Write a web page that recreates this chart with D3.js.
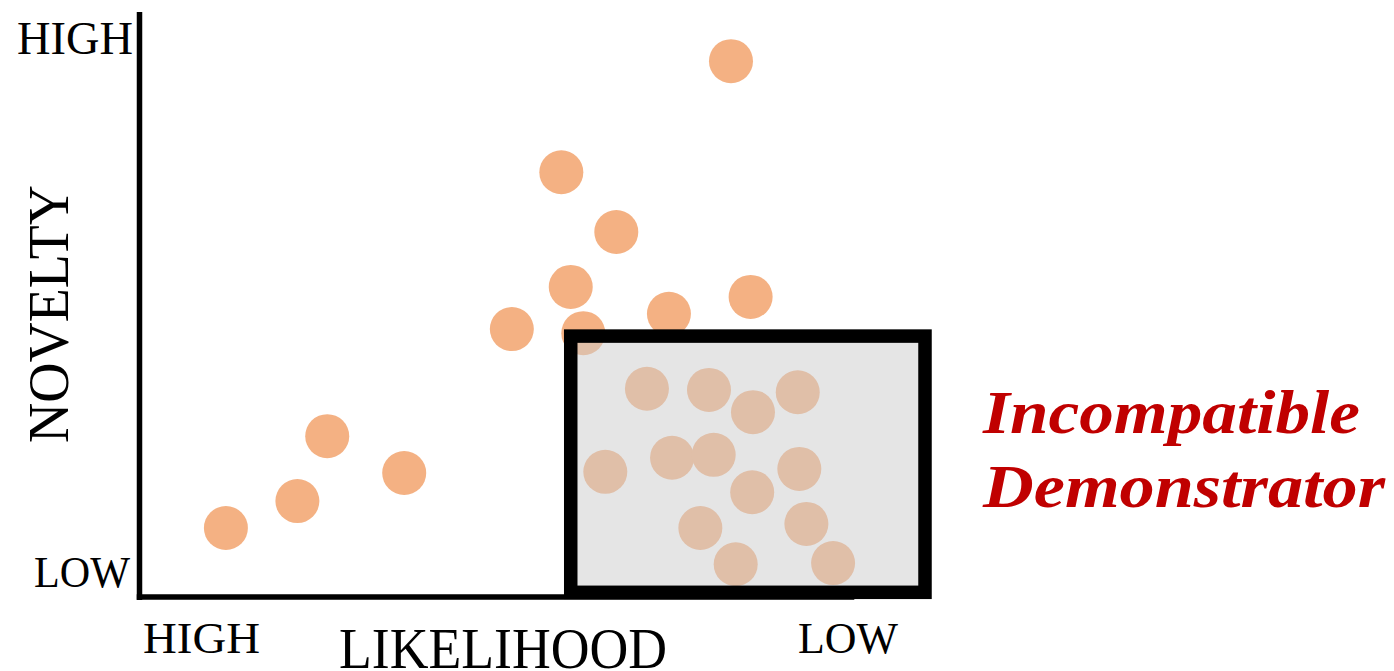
<!DOCTYPE html>
<html>
<head>
<meta charset="utf-8">
<script src="https://cdn.jsdelivr.net/npm/d3@7"></script>
<style>
  html, body { margin: 0; padding: 0; background: #fff; }
  svg { display: block; }
  text { font-family: "Liberation Serif", "Times New Roman", serif; fill: #000; }
</style>
</head>
<body>
<svg id="chart" width="1394" height="671"></svg>
<script>
// Ideas placed by likelihood (0 = high, 100 = low) and novelty (0 = low, 100 = high)
const likelihood = [75.3, 53.7, 60.7, 54.9, 77.8, 47.4, 56.5, 67.4, 23.9, 33.7, 20.1, 11.0,
                    64.6, 72.5, 78.1, 83.8, 59.3, 67.8, 73.1, 78.0, 84.0, 71.4, 84.9, 75.9, 88.3];
const novelty    = [91.6, 72.6, 62.4, 53.0, 51.3, 45.8, 45.1, 48.4, 27.5, 21.2, 16.4, 11.8,
                    35.6, 35.4, 31.6, 35.0, 21.4, 23.8, 24.3, 17.9, 21.9, 11.8, 12.5,  5.6,  5.8];

// Region of ideas that the demonstrator cannot accommodate
const regionLikelihood = [54.9, 100];
const regionNovelty    = [0.8, 44.6];

// Axis end labels and titles
const yEndLabels = ["HIGH", "LOW"];
const xEndLabels = ["HIGH", "LOW"];
const axisTitles = ["LIKELIHOOD", "NOVELTY"];
const regionLabel = ["Incompatible", "Demonstrator"];

const svg = d3.select("#chart");

const x = d3.scaleLinear().domain([0, 100]).range([139.5, 925]);
const y = d3.scaleLinear().domain([0, 100]).range([597, 12]);

// Axes: plain heavy lines with no ticks
svg.append("line")
  .attr("x1", x(0)).attr("x2", x(0))
  .attr("y1", y(100)).attr("y2", y(0) + 3)
  .attr("stroke", "#000").attr("stroke-width", 5.5);
svg.append("line")
  .attr("x1", x(0) - 2.75).attr("x2", x(91))
  .attr("y1", y(0)).attr("y2", y(0))
  .attr("stroke", "#000").attr("stroke-width", 5.5);

// Points
const points = likelihood.map((v, i) => ({ lx: v, nv: novelty[i] }));
svg.append("g")
  .selectAll("circle")
  .data(points)
  .join("circle")
  .attr("cx", d => x(d.lx))
  .attr("cy", d => y(d.nv))
  .attr("r", 22)
  .attr("fill", "#F4B183");

// Shaded incompatible region, laid over the points
svg.append("rect")
  .attr("x", x(regionLikelihood[0]))
  .attr("y", y(regionNovelty[1]))
  .attr("width", x(regionLikelihood[1]) - x(regionLikelihood[0]))
  .attr("height", y(regionNovelty[0]) - y(regionNovelty[1]))
  .attr("fill", "#CCCCCC")
  .attr("fill-opacity", 0.51)
  .attr("stroke", "#000")
  .attr("stroke-width", 13.5);

// End labels on the novelty axis
svg.append("text").text(yEndLabels[0])
  .attr("x", 133).attr("y", 54).attr("text-anchor", "end")
  .attr("font-size", 46).attr("textLength", 116).attr("lengthAdjust", "spacingAndGlyphs");
svg.append("text").text(yEndLabels[1])
  .attr("x", 130).attr("y", 587).attr("text-anchor", "end")
  .attr("font-size", 44).attr("textLength", 96).attr("lengthAdjust", "spacingAndGlyphs");

// End labels on the likelihood axis
svg.append("text").text(xEndLabels[0])
  .attr("x", 143).attr("y", 653)
  .attr("font-size", 45).attr("textLength", 117).attr("lengthAdjust", "spacingAndGlyphs");
svg.append("text").text(xEndLabels[1])
  .attr("x", 798).attr("y", 653)
  .attr("font-size", 45).attr("textLength", 100).attr("lengthAdjust", "spacingAndGlyphs");

// Axis titles
svg.append("text").text(axisTitles[0])
  .attr("x", 339).attr("y", 668)
  .attr("font-size", 56).attr("textLength", 328).attr("lengthAdjust", "spacingAndGlyphs");
svg.append("text").text(axisTitles[1])
  .attr("transform", "translate(68,443) rotate(-90)")
  .attr("font-size", 58).attr("textLength", 258).attr("lengthAdjust", "spacingAndGlyphs");

// Region label
const lbl = svg.append("text")
  .attr("font-style", "italic").attr("font-weight", "bold")
  .attr("font-size", 61)
  .style("fill", "#C00000");
lbl.append("tspan").text(regionLabel[0])
  .attr("x", 983).attr("y", 433)
  .attr("textLength", 377).attr("lengthAdjust", "spacingAndGlyphs");
lbl.append("tspan").text(regionLabel[1])
  .attr("x", 983).attr("y", 507)
  .attr("textLength", 402).attr("lengthAdjust", "spacingAndGlyphs");
</script>
</body>
</html>
